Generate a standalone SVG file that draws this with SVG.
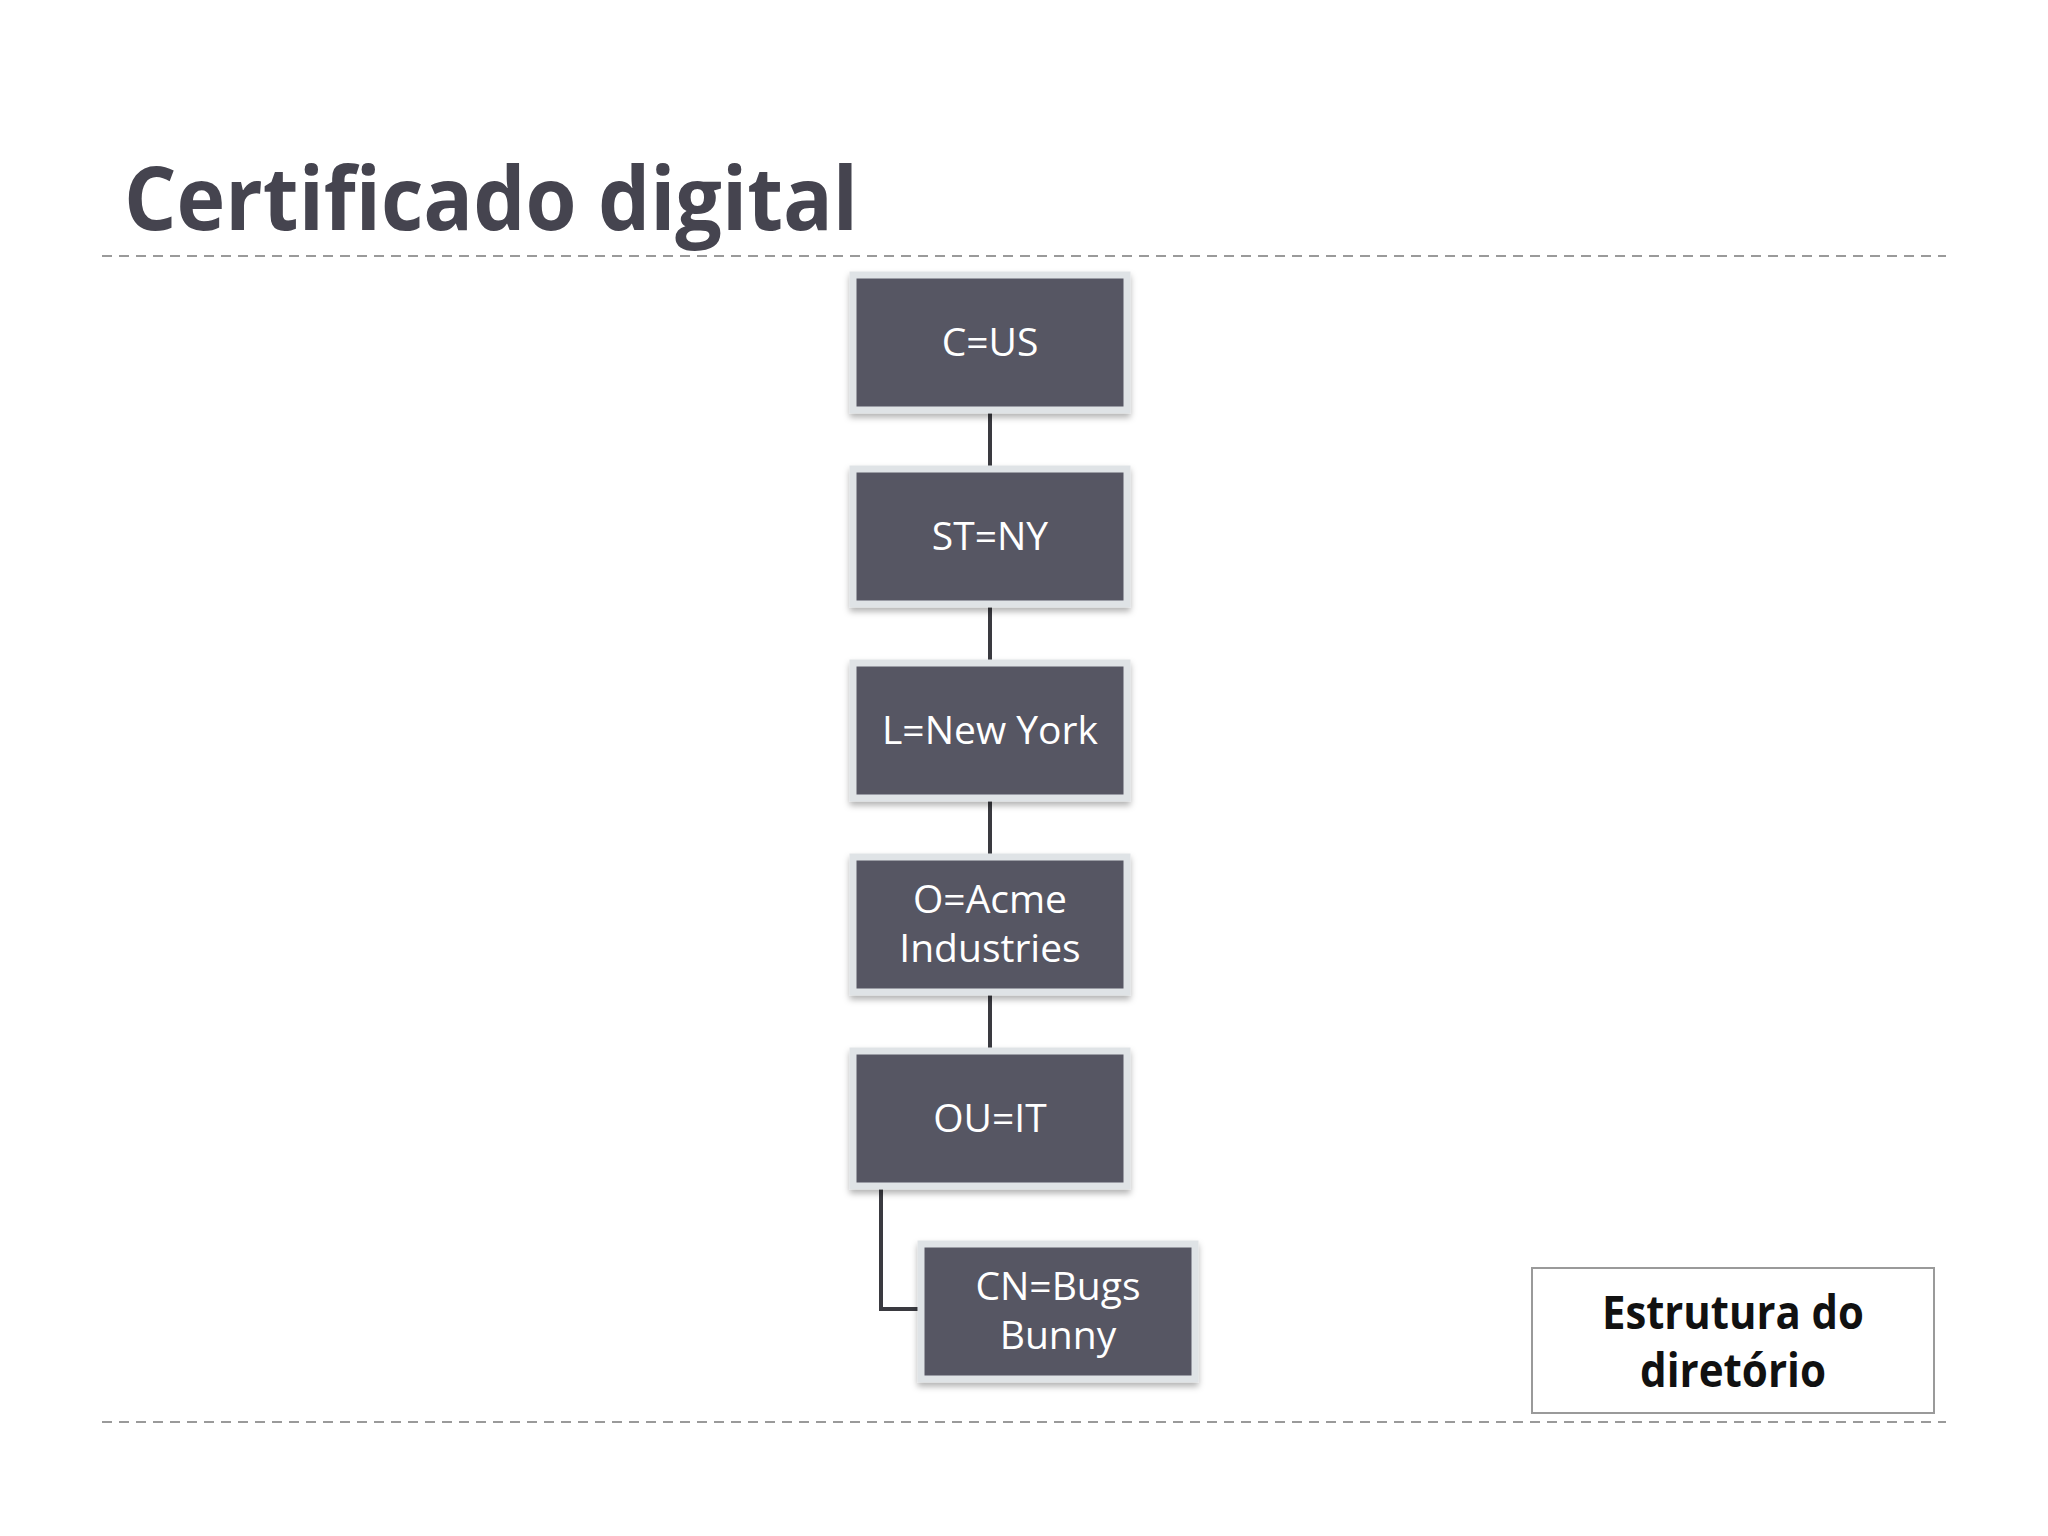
<svg xmlns="http://www.w3.org/2000/svg" width="2048" height="1536" viewBox="0 0 2048 1536">
<defs>
<filter id="sh" x="-10%" y="-10%" width="120%" height="130%"><feDropShadow dx="0" dy="4" stdDeviation="3" flood-color="#000" flood-opacity="0.3"/></filter>
<style>
.n{fill:#575664;stroke:#dfe3e6;stroke-width:7;filter:url(#sh)}
.t{fill:#fff;font-family:"Open Sans","Liberation Sans",sans-serif;font-size:39px;text-anchor:middle}
.d{stroke:#9a9a9a;stroke-width:2;stroke-dasharray:10 7}
.c{stroke:#3a3a40;stroke-width:4;fill:none}
.l{font-family:"Open Sans","Liberation Sans",sans-serif;font-weight:bold;font-size:46px;fill:#111;text-anchor:middle}
</style>
</defs>
<rect width="2048" height="1536" fill="#fff"/>
<text x="124" y="230" font-family="'Open Sans','Liberation Sans',sans-serif" font-weight="bold" font-size="88" fill="#45444f" textLength="734" lengthAdjust="spacingAndGlyphs">Certificado digital</text>
<line class="d" x1="102" y1="256" x2="1946" y2="256"/>
<line class="d" x1="102" y1="1422" x2="1946" y2="1422"/>
<g id="connectors">
<line class="c" x1="990" y1="413" x2="990" y2="467"/>
<line class="c" x1="990" y1="606" x2="990" y2="662"/>
<line class="c" x1="990" y1="799" x2="990" y2="855"/>
<line class="c" x1="990" y1="994" x2="990" y2="1049"/>
<polyline class="c" points="881,1187 881,1309 919,1309"/>
</g>
<g id="n1"><rect class="n" x="853" y="275" width="274" height="135"/><text class="t" x="990" y="356">C=US</text></g>
<g id="n2"><rect class="n" x="853" y="469" width="274" height="135"/><text class="t" x="990" y="550">ST=NY</text></g>
<g id="n3"><rect class="n" x="853" y="663" width="274" height="135"/><text class="t" x="990" y="744">L=New York</text></g>
<g id="n4"><rect class="n" x="853" y="857" width="274" height="135"/><text class="t" x="990" y="913">O=Acme</text><text class="t" x="990" y="962">Industries</text></g>
<g id="n5"><rect class="n" x="853" y="1051" width="274" height="135"/><text class="t" x="990" y="1132">OU=IT</text></g>
<g id="n6"><rect class="n" x="921" y="1244" width="274" height="135"/><text class="t" x="1058" y="1300">CN=Bugs</text><text class="t" x="1058" y="1349">Bunny</text></g>
<g id="label"><rect x="1532" y="1268" width="402" height="145" fill="#fff" stroke="#9a9a9a" stroke-width="2"/>
<text class="l" x="1733" y="1329" textLength="262" lengthAdjust="spacingAndGlyphs">Estrutura do</text>
<text class="l" x="1733" y="1387" textLength="186" lengthAdjust="spacingAndGlyphs">diretório</text></g>
</svg>
